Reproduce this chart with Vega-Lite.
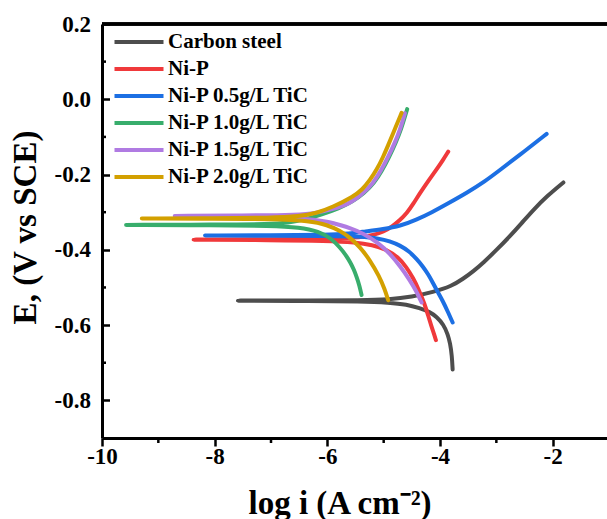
{
  "$schema": "https://vega.github.io/schema/vega-lite/v6.json",
  "width": 505,
  "height": 414,
  "autosize": {"type": "none"},
  "padding": {"left": 102, "top": 24, "right": 0, "bottom": 81},
  "background": "white",
  "config": {
    "view": {"stroke": null},
    "font": "Liberation Serif",
    "axis": {"labelFont": "Liberation Serif", "titleFont": "Liberation Serif"},
    "legend": {"labelFont": "Liberation Serif"}
  },
  "datasets": {
    "curves": [
      {"s": "Carbon steel", "o": 1, "x": -3.776, "y": -0.718},
      {"s": "Carbon steel", "o": 2, "x": -3.79, "y": -0.68},
      {"s": "Carbon steel", "o": 3, "x": -3.82, "y": -0.649},
      {"s": "Carbon steel", "o": 4, "x": -3.86, "y": -0.625},
      {"s": "Carbon steel", "o": 5, "x": -3.94, "y": -0.598},
      {"s": "Carbon steel", "o": 6, "x": -4.06, "y": -0.578},
      {"s": "Carbon steel", "o": 7, "x": -4.18, "y": -0.565},
      {"s": "Carbon steel", "o": 8, "x": -4.36, "y": -0.555},
      {"s": "Carbon steel", "o": 9, "x": -4.59, "y": -0.545},
      {"s": "Carbon steel", "o": 10, "x": -4.9, "y": -0.54},
      {"s": "Carbon steel", "o": 11, "x": -5.4, "y": -0.537},
      {"s": "Carbon steel", "o": 12, "x": -6.3, "y": -0.536},
      {"s": "Carbon steel", "o": 13, "x": -7.5, "y": -0.5355},
      {"s": "Carbon steel", "o": 14, "x": -7.63, "y": -0.535},
      {"s": "Carbon steel", "o": 15, "x": -7.5, "y": -0.5345},
      {"s": "Carbon steel", "o": 16, "x": -6.3, "y": -0.535},
      {"s": "Carbon steel", "o": 17, "x": -5.4, "y": -0.534},
      {"s": "Carbon steel", "o": 18, "x": -4.9, "y": -0.532},
      {"s": "Carbon steel", "o": 19, "x": -4.5, "y": -0.525},
      {"s": "Carbon steel", "o": 20, "x": -4.12, "y": -0.512},
      {"s": "Carbon steel", "o": 21, "x": -3.8, "y": -0.497},
      {"s": "Carbon steel", "o": 22, "x": -3.59, "y": -0.477},
      {"s": "Carbon steel", "o": 23, "x": -3.4, "y": -0.456},
      {"s": "Carbon steel", "o": 24, "x": -3.23, "y": -0.434},
      {"s": "Carbon steel", "o": 25, "x": -3.0, "y": -0.401},
      {"s": "Carbon steel", "o": 26, "x": -2.76, "y": -0.364},
      {"s": "Carbon steel", "o": 27, "x": -2.55, "y": -0.329},
      {"s": "Carbon steel", "o": 28, "x": -2.345, "y": -0.294},
      {"s": "Carbon steel", "o": 29, "x": -2.1, "y": -0.257},
      {"s": "Carbon steel", "o": 30, "x": -1.81, "y": -0.221},

      {"s": "Ni-P", "o": 1, "x": -4.073, "y": -0.64},
      {"s": "Ni-P", "o": 2, "x": -4.11, "y": -0.622},
      {"s": "Ni-P", "o": 3, "x": -4.149, "y": -0.605},
      {"s": "Ni-P", "o": 4, "x": -4.21, "y": -0.575},
      {"s": "Ni-P", "o": 5, "x": -4.27, "y": -0.545},
      {"s": "Ni-P", "o": 6, "x": -4.38, "y": -0.505},
      {"s": "Ni-P", "o": 7, "x": -4.476, "y": -0.475},
      {"s": "Ni-P", "o": 8, "x": -4.6, "y": -0.445},
      {"s": "Ni-P", "o": 9, "x": -4.74, "y": -0.42},
      {"s": "Ni-P", "o": 10, "x": -4.95, "y": -0.399},
      {"s": "Ni-P", "o": 11, "x": -5.2, "y": -0.387},
      {"s": "Ni-P", "o": 12, "x": -5.5, "y": -0.38},
      {"s": "Ni-P", "o": 13, "x": -6.0, "y": -0.376},
      {"s": "Ni-P", "o": 14, "x": -7.0, "y": -0.374},
      {"s": "Ni-P", "o": 15, "x": -8.3, "y": -0.3735},
      {"s": "Ni-P", "o": 16, "x": -8.41, "y": -0.373},
      {"s": "Ni-P", "o": 17, "x": -8.3, "y": -0.3725},
      {"s": "Ni-P", "o": 18, "x": -7.0, "y": -0.372},
      {"s": "Ni-P", "o": 19, "x": -6.0, "y": -0.371},
      {"s": "Ni-P", "o": 20, "x": -5.5, "y": -0.368},
      {"s": "Ni-P", "o": 21, "x": -5.2, "y": -0.362},
      {"s": "Ni-P", "o": 22, "x": -5.0, "y": -0.352},
      {"s": "Ni-P", "o": 23, "x": -4.85, "y": -0.338},
      {"s": "Ni-P", "o": 24, "x": -4.71, "y": -0.321},
      {"s": "Ni-P", "o": 25, "x": -4.59, "y": -0.303},
      {"s": "Ni-P", "o": 26, "x": -4.47, "y": -0.277},
      {"s": "Ni-P", "o": 27, "x": -4.36, "y": -0.25},
      {"s": "Ni-P", "o": 28, "x": -4.2, "y": -0.215},
      {"s": "Ni-P", "o": 29, "x": -4.06, "y": -0.186},
      {"s": "Ni-P", "o": 30, "x": -3.95, "y": -0.162},
      {"s": "Ni-P", "o": 31, "x": -3.854, "y": -0.139},

      {"s": "Ni-P 0.5g/L TiC", "o": 1, "x": -3.776, "y": -0.593},
      {"s": "Ni-P 0.5g/L TiC", "o": 2, "x": -3.86, "y": -0.565},
      {"s": "Ni-P 0.5g/L TiC", "o": 3, "x": -3.943, "y": -0.538},
      {"s": "Ni-P 0.5g/L TiC", "o": 4, "x": -4.06, "y": -0.507},
      {"s": "Ni-P 0.5g/L TiC", "o": 5, "x": -4.121, "y": -0.489},
      {"s": "Ni-P 0.5g/L TiC", "o": 6, "x": -4.21, "y": -0.465},
      {"s": "Ni-P 0.5g/L TiC", "o": 7, "x": -4.3, "y": -0.445},
      {"s": "Ni-P 0.5g/L TiC", "o": 8, "x": -4.416, "y": -0.424},
      {"s": "Ni-P 0.5g/L TiC", "o": 9, "x": -4.55, "y": -0.404},
      {"s": "Ni-P 0.5g/L TiC", "o": 10, "x": -4.71, "y": -0.388},
      {"s": "Ni-P 0.5g/L TiC", "o": 11, "x": -4.9, "y": -0.377},
      {"s": "Ni-P 0.5g/L TiC", "o": 12, "x": -5.07, "y": -0.37},
      {"s": "Ni-P 0.5g/L TiC", "o": 13, "x": -5.4, "y": -0.365},
      {"s": "Ni-P 0.5g/L TiC", "o": 14, "x": -6.0, "y": -0.363},
      {"s": "Ni-P 0.5g/L TiC", "o": 15, "x": -7.0, "y": -0.3625},
      {"s": "Ni-P 0.5g/L TiC", "o": 16, "x": -8.1, "y": -0.3622},
      {"s": "Ni-P 0.5g/L TiC", "o": 17, "x": -8.206, "y": -0.362},
      {"s": "Ni-P 0.5g/L TiC", "o": 18, "x": -8.1, "y": -0.3618},
      {"s": "Ni-P 0.5g/L TiC", "o": 19, "x": -7.0, "y": -0.361},
      {"s": "Ni-P 0.5g/L TiC", "o": 20, "x": -6.0, "y": -0.36},
      {"s": "Ni-P 0.5g/L TiC", "o": 21, "x": -5.6, "y": -0.357},
      {"s": "Ni-P 0.5g/L TiC", "o": 22, "x": -5.364, "y": -0.352},
      {"s": "Ni-P 0.5g/L TiC", "o": 23, "x": -5.0, "y": -0.345},
      {"s": "Ni-P 0.5g/L TiC", "o": 24, "x": -4.71, "y": -0.337},
      {"s": "Ni-P 0.5g/L TiC", "o": 25, "x": -4.42, "y": -0.32},
      {"s": "Ni-P 0.5g/L TiC", "o": 26, "x": -4.15, "y": -0.301},
      {"s": "Ni-P 0.5g/L TiC", "o": 27, "x": -3.85, "y": -0.276},
      {"s": "Ni-P 0.5g/L TiC", "o": 28, "x": -3.528, "y": -0.249},
      {"s": "Ni-P 0.5g/L TiC", "o": 29, "x": -3.2, "y": -0.218},
      {"s": "Ni-P 0.5g/L TiC", "o": 30, "x": -2.936, "y": -0.188},
      {"s": "Ni-P 0.5g/L TiC", "o": 31, "x": -2.5, "y": -0.138},
      {"s": "Ni-P 0.5g/L TiC", "o": 32, "x": -2.107, "y": -0.092},

      {"s": "Ni-P 1.0g/L TiC", "o": 1, "x": -5.393, "y": -0.52},
      {"s": "Ni-P 1.0g/L TiC", "o": 2, "x": -5.43, "y": -0.495},
      {"s": "Ni-P 1.0g/L TiC", "o": 3, "x": -5.48, "y": -0.472},
      {"s": "Ni-P 1.0g/L TiC", "o": 4, "x": -5.53, "y": -0.452},
      {"s": "Ni-P 1.0g/L TiC", "o": 5, "x": -5.59, "y": -0.434},
      {"s": "Ni-P 1.0g/L TiC", "o": 6, "x": -5.67, "y": -0.414},
      {"s": "Ni-P 1.0g/L TiC", "o": 7, "x": -5.78, "y": -0.393},
      {"s": "Ni-P 1.0g/L TiC", "o": 8, "x": -5.94, "y": -0.369},
      {"s": "Ni-P 1.0g/L TiC", "o": 9, "x": -6.15, "y": -0.351},
      {"s": "Ni-P 1.0g/L TiC", "o": 10, "x": -6.49, "y": -0.34},
      {"s": "Ni-P 1.0g/L TiC", "o": 11, "x": -7.0, "y": -0.336},
      {"s": "Ni-P 1.0g/L TiC", "o": 12, "x": -8.0, "y": -0.335},
      {"s": "Ni-P 1.0g/L TiC", "o": 13, "x": -9.5, "y": -0.3342},
      {"s": "Ni-P 1.0g/L TiC", "o": 14, "x": -9.609, "y": -0.334},
      {"s": "Ni-P 1.0g/L TiC", "o": 15, "x": -9.5, "y": -0.3338},
      {"s": "Ni-P 1.0g/L TiC", "o": 16, "x": -8.0, "y": -0.333},
      {"s": "Ni-P 1.0g/L TiC", "o": 17, "x": -7.0, "y": -0.332},
      {"s": "Ni-P 1.0g/L TiC", "o": 18, "x": -6.7, "y": -0.328},
      {"s": "Ni-P 1.0g/L TiC", "o": 19, "x": -6.4, "y": -0.32},
      {"s": "Ni-P 1.0g/L TiC", "o": 20, "x": -6.1, "y": -0.306},
      {"s": "Ni-P 1.0g/L TiC", "o": 21, "x": -5.8, "y": -0.29},
      {"s": "Ni-P 1.0g/L TiC", "o": 22, "x": -5.55, "y": -0.272},
      {"s": "Ni-P 1.0g/L TiC", "o": 23, "x": -5.35, "y": -0.25},
      {"s": "Ni-P 1.0g/L TiC", "o": 24, "x": -5.17, "y": -0.223},
      {"s": "Ni-P 1.0g/L TiC", "o": 25, "x": -5.03, "y": -0.19},
      {"s": "Ni-P 1.0g/L TiC", "o": 26, "x": -4.9, "y": -0.153},
      {"s": "Ni-P 1.0g/L TiC", "o": 27, "x": -4.79, "y": -0.117},
      {"s": "Ni-P 1.0g/L TiC", "o": 28, "x": -4.69, "y": -0.08},
      {"s": "Ni-P 1.0g/L TiC", "o": 29, "x": -4.583, "y": -0.026},

      {"s": "Ni-P 1.5g/L TiC", "o": 1, "x": -4.327, "y": -0.54},
      {"s": "Ni-P 1.5g/L TiC", "o": 2, "x": -4.42, "y": -0.51},
      {"s": "Ni-P 1.5g/L TiC", "o": 3, "x": -4.535, "y": -0.481},
      {"s": "Ni-P 1.5g/L TiC", "o": 4, "x": -4.7, "y": -0.445},
      {"s": "Ni-P 1.5g/L TiC", "o": 5, "x": -4.89, "y": -0.41},
      {"s": "Ni-P 1.5g/L TiC", "o": 6, "x": -5.1, "y": -0.381},
      {"s": "Ni-P 1.5g/L TiC", "o": 7, "x": -5.364, "y": -0.356},
      {"s": "Ni-P 1.5g/L TiC", "o": 8, "x": -5.6, "y": -0.342},
      {"s": "Ni-P 1.5g/L TiC", "o": 9, "x": -5.778, "y": -0.334},
      {"s": "Ni-P 1.5g/L TiC", "o": 10, "x": -5.956, "y": -0.326},
      {"s": "Ni-P 1.5g/L TiC", "o": 11, "x": -6.3, "y": -0.318},
      {"s": "Ni-P 1.5g/L TiC", "o": 12, "x": -7.0, "y": -0.313},
      {"s": "Ni-P 1.5g/L TiC", "o": 13, "x": -8.64, "y": -0.3102},
      {"s": "Ni-P 1.5g/L TiC", "o": 14, "x": -8.744, "y": -0.31},
      {"s": "Ni-P 1.5g/L TiC", "o": 15, "x": -8.64, "y": -0.3098},
      {"s": "Ni-P 1.5g/L TiC", "o": 16, "x": -7.5, "y": -0.309},
      {"s": "Ni-P 1.5g/L TiC", "o": 17, "x": -6.5, "y": -0.307},
      {"s": "Ni-P 1.5g/L TiC", "o": 18, "x": -6.2, "y": -0.302},
      {"s": "Ni-P 1.5g/L TiC", "o": 19, "x": -5.9, "y": -0.292},
      {"s": "Ni-P 1.5g/L TiC", "o": 20, "x": -5.6, "y": -0.277},
      {"s": "Ni-P 1.5g/L TiC", "o": 21, "x": -5.4, "y": -0.255},
      {"s": "Ni-P 1.5g/L TiC", "o": 22, "x": -5.187, "y": -0.223},
      {"s": "Ni-P 1.5g/L TiC", "o": 23, "x": -5.05, "y": -0.19},
      {"s": "Ni-P 1.5g/L TiC", "o": 24, "x": -4.92, "y": -0.153},
      {"s": "Ni-P 1.5g/L TiC", "o": 25, "x": -4.81, "y": -0.118},
      {"s": "Ni-P 1.5g/L TiC", "o": 26, "x": -4.712, "y": -0.082},
      {"s": "Ni-P 1.5g/L TiC", "o": 27, "x": -4.624, "y": -0.037},

      {"s": "Ni-P 2.0g/L TiC", "o": 1, "x": -4.92, "y": -0.534},
      {"s": "Ni-P 2.0g/L TiC", "o": 2, "x": -4.98, "y": -0.505},
      {"s": "Ni-P 2.0g/L TiC", "o": 3, "x": -5.08, "y": -0.47},
      {"s": "Ni-P 2.0g/L TiC", "o": 4, "x": -5.245, "y": -0.427},
      {"s": "Ni-P 2.0g/L TiC", "o": 5, "x": -5.42, "y": -0.393},
      {"s": "Ni-P 2.0g/L TiC", "o": 6, "x": -5.6, "y": -0.367},
      {"s": "Ni-P 2.0g/L TiC", "o": 7, "x": -5.78, "y": -0.349},
      {"s": "Ni-P 2.0g/L TiC", "o": 8, "x": -6.0, "y": -0.334},
      {"s": "Ni-P 2.0g/L TiC", "o": 9, "x": -6.3, "y": -0.323},
      {"s": "Ni-P 2.0g/L TiC", "o": 10, "x": -7.0, "y": -0.318},
      {"s": "Ni-P 2.0g/L TiC", "o": 11, "x": -8.0, "y": -0.317},
      {"s": "Ni-P 2.0g/L TiC", "o": 12, "x": -9.22, "y": -0.3171},
      {"s": "Ni-P 2.0g/L TiC", "o": 13, "x": -9.33, "y": -0.317},
      {"s": "Ni-P 2.0g/L TiC", "o": 14, "x": -9.22, "y": -0.3169},
      {"s": "Ni-P 2.0g/L TiC", "o": 15, "x": -8.0, "y": -0.316},
      {"s": "Ni-P 2.0g/L TiC", "o": 16, "x": -7.0, "y": -0.315},
      {"s": "Ni-P 2.0g/L TiC", "o": 17, "x": -6.49, "y": -0.311},
      {"s": "Ni-P 2.0g/L TiC", "o": 18, "x": -6.2, "y": -0.303},
      {"s": "Ni-P 2.0g/L TiC", "o": 19, "x": -5.897, "y": -0.286},
      {"s": "Ni-P 2.0g/L TiC", "o": 20, "x": -5.542, "y": -0.259},
      {"s": "Ni-P 2.0g/L TiC", "o": 21, "x": -5.38, "y": -0.24},
      {"s": "Ni-P 2.0g/L TiC", "o": 22, "x": -5.245, "y": -0.215},
      {"s": "Ni-P 2.0g/L TiC", "o": 23, "x": -5.12, "y": -0.186},
      {"s": "Ni-P 2.0g/L TiC", "o": 24, "x": -5.009, "y": -0.153},
      {"s": "Ni-P 2.0g/L TiC", "o": 25, "x": -4.92, "y": -0.122},
      {"s": "Ni-P 2.0g/L TiC", "o": 26, "x": -4.831, "y": -0.09},
      {"s": "Ni-P 2.0g/L TiC", "o": 27, "x": -4.682, "y": -0.036}
    ],
    "minorX": [{"v": -9}, {"v": -7}, {"v": -5}, {"v": -3}],
    "minorY": [{"v": 0.1}, {"v": -0.1}, {"v": -0.3}, {"v": -0.5}, {"v": -0.7}]
  },
  "layer": [
    {
      "data": {"name": "curves"},
      "mark": {
        "type": "line",
        "strokeWidth": 4,
        "strokeCap": "round",
        "strokeJoin": "round",
        "interpolate": "basis",
        "clip": true
      },
      "encoding": {
        "x": {
          "field": "x",
          "type": "quantitative",
          "scale": {"domain": [-10, -1.036], "nice": false, "zero": false},
          "axis": {
            "orient": "bottom",
            "values": [-10, -8, -6, -4, -2],
            "labelExpr": "replace(format(datum.value, 'd'), '\u2212', '-')",
            "labelFont": "Liberation Serif",
            "labelFontWeight": "bold",
            "labelFontSize": 23,
            "labelColor": "black",
            "labelPadding": -1,
            "labelFlush": false,
            "labelOverlap": false,
            "labelBound": false,
            "tickSize": 8,
            "tickWidth": 2.5,
            "tickColor": "black",
            "domainWidth": 3,
            "domainColor": "black",
            "grid": false,
            "title": "log i (A cm\u207b\u00b2)",
            "titleFont": "Liberation Serif",
            "titleFontWeight": "bold",
            "titleFontSize": 33,
            "titleColor": "black",
            "titleAlign": "left",
            "titleAnchor": "start",
            "titleBaseline": "alphabetic",
            "titleX": 146,
            "titleY": 75
          }
        },
        "y": {
          "field": "y",
          "type": "quantitative",
          "scale": {"domain": [-0.9, 0.2], "nice": false, "zero": false},
          "axis": {
            "orient": "left",
            "values": [0.2, 0, -0.2, -0.4, -0.6, -0.8],
            "labelExpr": "replace(format(datum.value, '.1f'), '\u2212', '-')",
            "labelFont": "Liberation Serif",
            "labelFontWeight": "bold",
            "labelFontSize": 23,
            "labelColor": "black",
            "labelPadding": 19,
            "labelFlush": false,
            "labelOverlap": false,
            "labelBound": false,
            "tickSize": -7.5,
            "tickWidth": 2.5,
            "tickColor": "black",
            "domainWidth": 3,
            "domainColor": "black",
            "grid": false,
            "title": "E, (V vs SCE)",
            "titleFont": "Liberation Serif",
            "titleFontWeight": "bold",
            "titleFontSize": 33,
            "titleColor": "black",
            "titleAngle": 270,
            "titleAlign": "center",
            "titleBaseline": "alphabetic",
            "titleX": -67,
            "titleY": 203
          }
        },
        "color": {
          "field": "s",
          "type": "nominal",
          "sort": ["Carbon steel", "Ni-P", "Ni-P 0.5g/L TiC", "Ni-P 1.0g/L TiC", "Ni-P 1.5g/L TiC", "Ni-P 2.0g/L TiC"],
          "scale": {
            "domain": ["Carbon steel", "Ni-P", "Ni-P 0.5g/L TiC", "Ni-P 1.0g/L TiC", "Ni-P 1.5g/L TiC", "Ni-P 2.0g/L TiC"],
            "range": ["#4d4d4d", "#f0393b", "#1c6fe3", "#38ad6c", "#b07be2", "#d3a000"]
          },
          "legend": {
            "orient": "none",
            "legendX": 25,
            "legendY": 6,
            "title": null,
            "padding": 0,
            "symbolType": "M-2.45,0H2.45",
            "symbolSize": 400,
            "symbolStrokeWidth": 4,
            "labelFont": "Liberation Serif",
            "labelFontWeight": "bold",
            "labelFontSize": 21,
            "labelColor": "black",
            "labelOffset": 17,
            "labelLimit": 0,
            "rowPadding": 5
          }
        },
        "order": {"field": "o", "type": "quantitative"}
      }
    },
    {
      "data": {"name": "minorX"},
      "mark": {"type": "tick", "orient": "vertical", "size": 5, "thickness": 2.5, "color": "black", "opacity": 1, "yOffset": 2.5},
      "encoding": {
        "x": {"field": "v", "type": "quantitative"},
        "y": {"datum": -0.9, "type": "quantitative"}
      }
    },
    {
      "data": {"name": "minorY"},
      "mark": {"type": "tick", "orient": "horizontal", "size": 4, "thickness": 2.5, "color": "black", "opacity": 1, "xOffset": 2},
      "encoding": {
        "x": {"datum": -10, "type": "quantitative"},
        "y": {"field": "v", "type": "quantitative"}
      }
    },
    {
      "data": {"name": "minorX"},
      "mark": {"type": "rule", "strokeWidth": 3, "color": "black"},
      "encoding": {
        "y": {"datum": 0.2, "type": "quantitative"}
      }
    }
  ]
}
